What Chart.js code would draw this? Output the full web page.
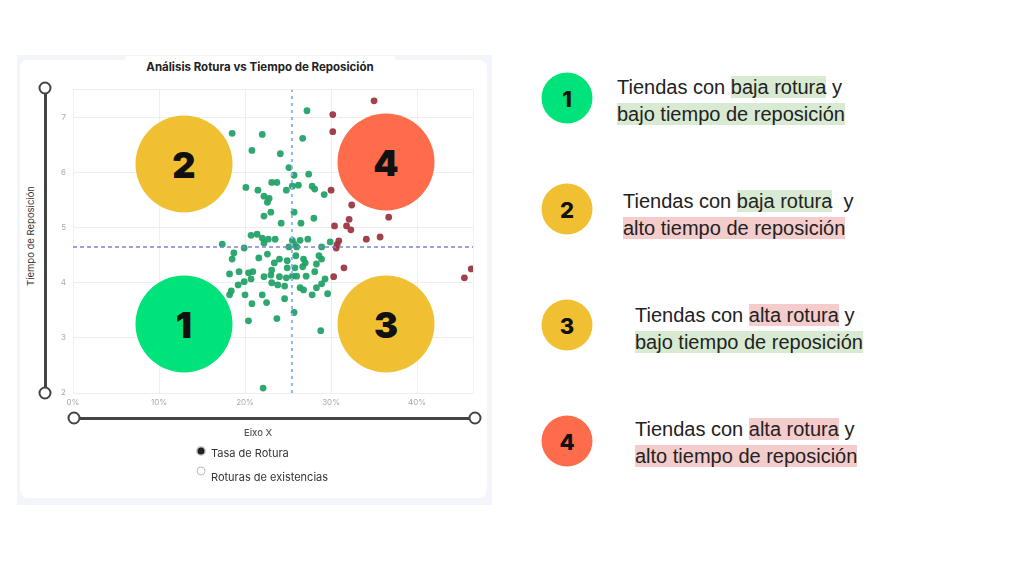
<!DOCTYPE html>
<html>
<head>
<meta charset="utf-8">
<script src="https://cdn.jsdelivr.net/npm/chart.js@4"></script>
<style>
  body { margin: 0; width: 1024px; height: 576px; background: #fff; position: relative; overflow: hidden; font-family: "Liberation Sans", Arial, sans-serif; }
  .panel { position: absolute; left: 17px; top: 55px; width: 475px; height: 450px; background: #f4f5fb; }
  .card { position: absolute; left: 20px; top: 60px; width: 467px; height: 438px; background: #fff; border-radius: 8px; }
  .title { position: absolute; left: 125px; top: 56px; width: 270px; height: 22px; background: #fff; text-align: center;
           font: 700 11.5px Inter, sans-serif; color: #222; line-height: 22px; }
  #wrap { position: absolute; left: 40px; top: 78px; width: 450px; height: 336px; }
  .ytitle { position: absolute; left: 30px; top: 236px; transform: translate(-50%, -50%) rotate(-90deg);
            font: 400 9.5px Inter, sans-serif; color: #333; white-space: nowrap; }
  .vbar { position: absolute; left: 43.5px; top: 88px; width: 3px; height: 305px; background: #444; }
  .hbar { position: absolute; left: 73px; top: 416.5px; width: 402px; height: 3px; background: #444; }
  .knob { position: absolute; width: 9px; height: 9px; border: 2px solid #444; border-radius: 50%; background: #fff; transform: translate(-50%, -50%); }
  .xtitle { position: absolute; left: 258px; top: 432px; transform: translate(-50%, -50%); font: 500 9.5px Inter, sans-serif; color: #555; }
  .leg { position: absolute; left: 211px; font: 400 11px Inter, sans-serif; color: #333; }
  .radio { position: absolute; width: 7px; height: 7px; border-radius: 50%; transform: translate(-50%, -50%); }
  .big { position: absolute; width: 97px; height: 97px; border-radius: 50%; transform: translate(-50%, -50%);
         display: flex; align-items: center; justify-content: center; font: 900 36px Inter, sans-serif; color: #111; }
  .small { position: absolute; width: 51px; height: 51px; border-radius: 50%; transform: translate(-50%, -50%);
           display: flex; align-items: center; justify-content: center; font: 800 22px Inter, sans-serif; color: #111; }
  .txt { position: absolute; font-size: 20px; color: #222; line-height: 27px; white-space: pre; }
  .g { background: #d9ead3; }
  .r { background: #f4cccc; }
</style>
</head>
<body>
<div class="panel"></div>
<div class="card"></div>
<div class="title">Análisis Rotura vs Tiempo de Reposición</div>
<div id="wrap"><canvas id="chart"></canvas></div>
<div class="ytitle">Tiempo de Reposición</div>
<div class="vbar"></div>
<div class="knob" style="left:45px;top:88px"></div>
<div class="knob" style="left:45px;top:393px"></div>
<div class="hbar"></div>
<div class="knob" style="left:74px;top:418px"></div>
<div class="knob" style="left:475px;top:418px"></div>
<div class="xtitle">Eixo X</div>
<div class="radio" style="left:201px;top:451px;background:#222;box-shadow:0 0 0 1.5px #ccc"></div>
<div class="leg" style="top:446px">Tasa de Rotura</div>
<div class="radio" style="left:201px;top:471px;background:#fff;border:1px solid #bbb"></div>
<div class="leg" style="top:470px">Roturas de existencias</div>

<div class="big" style="left:184px;top:164px;background:#f0c032">2</div>
<div class="big" style="left:386px;top:162px;background:#ff6c4b">4</div>
<div class="big" style="left:184px;top:324px;background:#00e27a">1</div>
<div class="big" style="left:386px;top:324px;background:#f0c032">3</div>

<div class="small" style="left:567px;top:98px;background:#00e27a">1</div>
<div class="txt" style="left:617px;top:74px">Tiendas con <span class="g">baja rotura</span> y</div>
<div class="txt" style="left:617px;top:101px"><span class="g">bajo tiempo de reposición</span></div>

<div class="small" style="left:567px;top:209px;background:#f0c032">2</div>
<div class="txt" style="left:623px;top:188px">Tiendas con <span class="g">baja rotura</span>  y</div>
<div class="txt" style="left:623px;top:215px"><span class="r">alto tiempo de reposición</span></div>

<div class="small" style="left:567px;top:325px;background:#f0c032">3</div>
<div class="txt" style="left:635px;top:302px">Tiendas con <span class="r">alta rotura</span> y</div>
<div class="txt" style="left:635px;top:329px"><span class="g">bajo tiempo de reposición</span></div>

<div class="small" style="left:567px;top:441px;background:#ff6c4b">4</div>
<div class="txt" style="left:635px;top:416px">Tiendas con <span class="r">alta rotura</span> y</div>
<div class="txt" style="left:635px;top:443px"><span class="r">alto tiempo de reposición</span></div>

<script>
// tasa de rotura (%) y tiempo de reposición por tienda
const greenX = [18.5, 22.0, 27.2, 20.8, 24.1, 26.7, 25.1, 25.7, 27.4, 23.1, 23.7, 20.1, 21.5, 24.8, 25.5, 26.2, 27.8, 28.1, 29.2, 22.2,
  22.8, 22.6, 25.7, 23.0, 22.2, 24.2, 26.5, 28.0, 20.7, 21.4, 22.0, 22.2, 22.7, 23.5, 25.5, 26.4, 27.3, 29.9, 17.35, 19.9,
  25.1, 26.0, 25.7, 28.9, 18.7, 18.5, 21.6, 22.6, 24.0, 23.4, 24.9, 25.9, 26.8, 28.6, 28.9, 18.2, 19.3, 20.4, 20.9, 23.1,
  24.9, 25.8, 26.7, 28.1, 29.3, 22.2, 20.7, 24.8, 26.0, 27.1, 19.9, 19.2, 18.4, 18.2, 23.1, 23.8, 26.4, 26.8, 28.3, 27.8,
  29.6, 20.0, 22.0, 20.8, 22.5, 24.6, 25.7, 23.7, 20.4, 28.8, 22.1, 25.5, 27.0, 28.3, 28.9, 24.0, 24.6, 23.0];
const greenY = [6.71, 6.69, 7.12, 6.40, 6.34, 6.62, 6.09, 5.95, 5.97, 5.82, 5.82, 5.73, 5.68, 5.68, 5.75, 5.77, 5.75, 5.70, 5.60, 5.57,
  5.53, 5.46, 5.28, 5.28, 5.21, 5.08, 5.08, 5.17, 4.86, 4.88, 4.81, 4.72, 4.79, 4.79, 4.77, 4.77, 4.79, 4.74, 4.70, 4.63,
  4.65, 4.65, 4.70, 4.65, 4.54, 4.43, 4.45, 4.52, 4.43, 4.36, 4.40, 4.49, 4.43, 4.49, 4.43, 4.16, 4.20, 4.18, 4.20, 4.23,
  4.27, 4.27, 4.29, 4.20, 4.07, 4.11, 4.07, 4.09, 4.12, 4.12, 4.02, 3.96, 3.85, 3.78, 4.00, 3.96, 3.91, 3.87, 3.91, 3.78,
  3.80, 3.78, 3.78, 3.62, 3.64, 3.71, 3.46, 3.35, 3.31, 3.13, 2.09, 4.12, 4.36, 4.34, 3.98, 4.11, 3.94, 4.14];
const redX = [35.0, 30.2, 30.2, 30.0, 32.4, 36.7, 32.1, 30.4, 31.8, 32.3, 34.1, 35.7, 30.9, 30.7, 30.6, 31.5, 30.3, 45.5, 46.3];
const redY = [7.30, 7.05, 6.74, 5.68, 5.41, 5.19, 5.15, 5.03, 5.03, 4.96, 4.79, 4.83, 4.76, 4.69, 4.63, 4.27, 4.11, 4.09, 4.25];

// medias (líneas de corte)
const meanX = 25.45;
const meanY = 4.65;
const xMin = 0, xMax = 46.5, yMin = 2, yMax = 7.5;

const toPoints = (xs, ys) => xs.map((x, i) => ({ x: x, y: ys[i] }));

new Chart(document.getElementById('chart'), {
  type: 'scatter',
  data: {
    datasets: [
      {
        label: 'mediaX',
        type: 'line',
        data: [{ x: meanX, y: yMin }, { x: meanX, y: yMax }],
        borderColor: '#8fb6f5',
        borderWidth: 2,
        borderDash: [3, 4],
        pointRadius: 0,
        order: 0
      },
      {
        label: 'mediaY',
        type: 'line',
        data: [{ x: xMin, y: meanY }, { x: xMax, y: meanY }],
        borderColor: '#7d82d2',
        borderWidth: 1.5,
        borderDash: [4, 3],
        pointRadius: 0,
        order: 0
      },
      {
        label: 'verde',
        data: toPoints(greenX, greenY),
        backgroundColor: 'rgba(36,162,104,0.95)',
        borderWidth: 0,
        pointRadius: 3.4,
        order: 1
      },
      {
        label: 'rojo',
        data: toPoints(redX, redY),
        backgroundColor: 'rgba(155,55,65,0.95)',
        borderWidth: 0,
        pointRadius: 3.4,
        order: 1
      }
    ]
  },
  options: {
    responsive: true,
    maintainAspectRatio: false,
    animation: false,
    layout: { padding: { left: 0, right: 17, top: 5, bottom: 0 } },
    plugins: { legend: { display: false }, tooltip: { enabled: false } },
    scales: {
      x: {
        type: 'linear',
        min: xMin,
        max: xMax,
        afterFit: s => { s.height = 21; },
        border: { display: false },
        grid: { color: '#eeeeee', drawTicks: false },
        ticks: {
          stepSize: 10,
          padding: 5,
          color: '#aaa',
          font: { family: 'Inter', size: 8 },
          callback: v => (v % 10 === 0 ? v + '%' : '')
        }
      },
      y: {
        min: yMin,
        max: yMax,
        afterFit: s => { s.width = 33; },
        border: { display: false },
        grid: { color: '#eeeeee', drawTicks: false },
        ticks: {
          stepSize: 1,
          padding: 7,
          color: '#aaa',
          font: { family: 'Inter', size: 8 },
          callback: v => (Number.isInteger(v) ? v : '')
        }
      }
    }
  }
});
</script>
</body>
</html>
